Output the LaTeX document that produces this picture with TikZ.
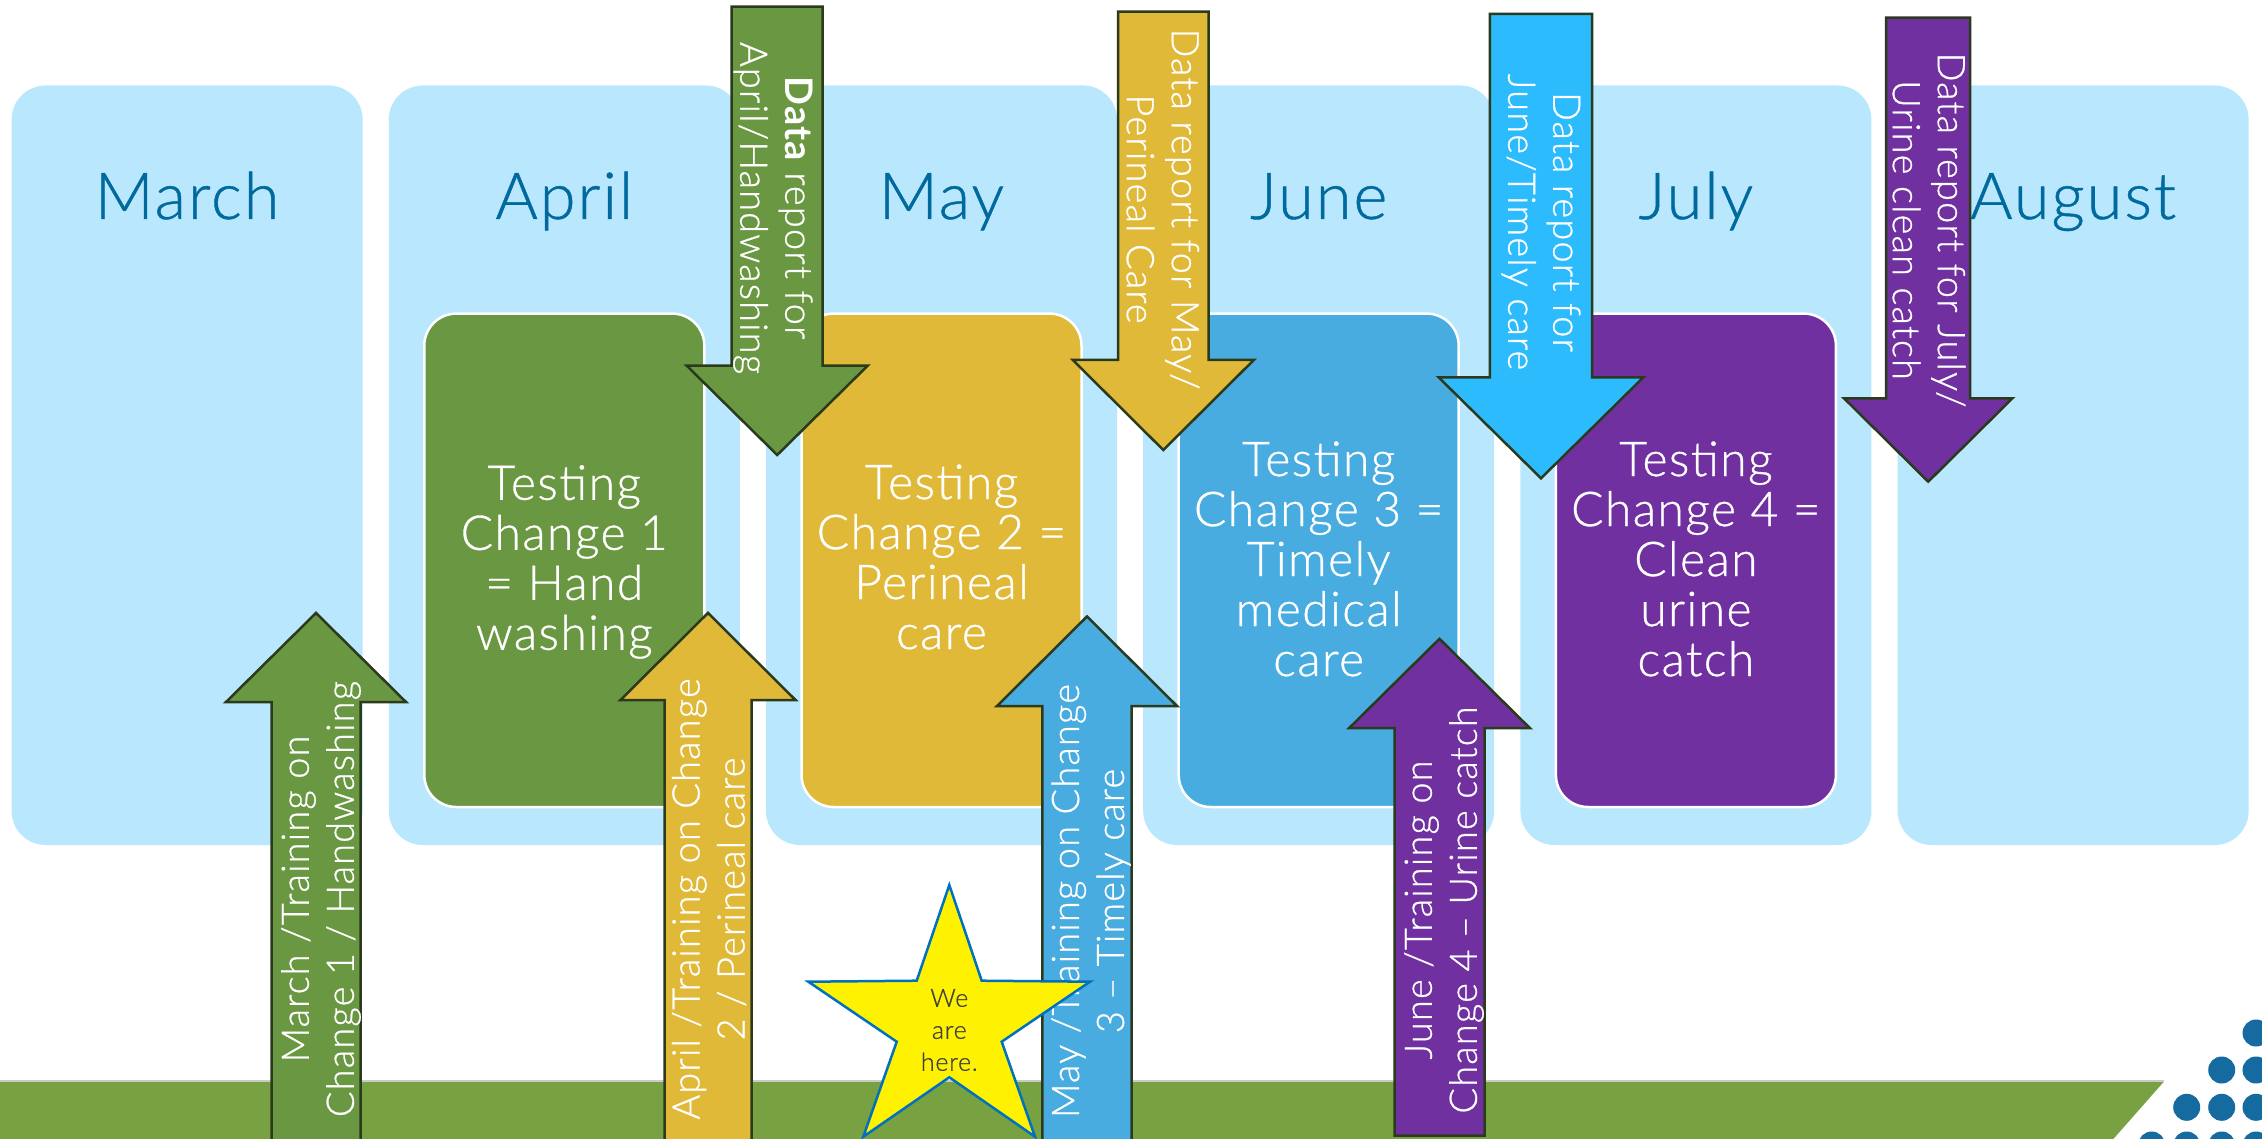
\documentclass[tikz,border=0pt]{standalone}
\usepackage{fontspec}
\IfFontExistsTF{Lato Light}
  {\setmainfont{Lato Light}[LetterSpace=3, FakeBold=0.7]}
  {\setmainfont{Lato}[LetterSpace=3]}
\newfontfamily\boldlato{Lato}[LetterSpace=3]

\definecolor{skyfill}{HTML}{B9E7FD}
\definecolor{titleblue}{HTML}{006A9E}
\definecolor{grn}{HTML}{6A9741}
\definecolor{gold}{HTML}{E1B938}
\definecolor{junblue}{HTML}{48ACE0}
\definecolor{cyanarrow}{HTML}{2CBBFD}
\definecolor{purp}{HTML}{7030A0}
\definecolor{bandgreen}{HTML}{78A142}
\definecolor{bandedge}{HTML}{CACACA}
\definecolor{arrowedge}{HTML}{2B3A1C}
\definecolor{dotblue}{HTML}{156A9F}
\definecolor{starblue}{HTML}{0070C0}
\definecolor{startextcol}{HTML}{404040}

% block arrow: fill, centre x, tip y, head-base y, head half width, shaft half width, tail y
\newcommand{\blockarrow}[7]{%
  \draw[blockline, fill=#1] ({#2-#6},#7) -- ({#2-#6},#4) -- ({#2-#5},#4) -- (#2,#3)
    -- ({#2+#5},#4) -- ({#2+#6},#4) -- ({#2+#6},#7) -- cycle;}

\begin{document}
\begin{tikzpicture}[x=1pt, y=-1pt,
  monthcol/.style={fill=skyfill, rounded corners=34pt},
  monthlabel/.style={text=titleblue, anchor=base, inner sep=0pt,
    font=\fontsize{65}{70}\selectfont},
  changebox/.style={draw=white, line width=2.5pt, rounded corners=32pt},
  changetext/.style={text=white, align=center, inner sep=0pt,
    font=\fontsize{48}{50}\selectfont},
  blockline/.style={draw=arrowedge, line width=2.5pt, line join=miter},
  uptext/.style={text=white, align=center, inner sep=0pt, rotate=90,
    font=\fontsize{38}{45}\selectfont},
  downtext/.style={text=white, align=center, inner sep=0pt, rotate=-90,
    font=\fontsize{38}{45}\selectfont},
  starshape/.style={fill=yellow, draw=starblue, line width=2.5pt, line join=miter},
  startext/.style={text=startextcol, align=center, inner sep=0pt,
    font=\fontsize{25}{32}\selectfont}]

\useasboundingbox (0,0) rectangle (2262,1139);
\clip (0,0) rectangle (2262,1139);
\fill[white] (0,0) rectangle (2262,1139);

% month columns with their titles
\foreach \i/\m in {0/March,1/April,2/May,3/June,4/July,5/August} {
  \pgfmathsetmacro\L{11.6+377.2*\i}
  \fill[monthcol] (\L,85.5) rectangle ({\L+351},845);
  \node[monthlabel] (m\i) at ({\L+175.5},219) {\m};
}

% the four changes being tested
\foreach \i/\c in {1/grn,2/gold,3/junblue,4/purp} {
  \pgfmathsetmacro\L{424.3+377.2*(\i-1)}
  \draw[changebox, fill=\c] (\L,313.6) rectangle ({\L+280},807);
}
\node[changetext] (c1) at (564.3,562) {Testing\\Change 1\\= Hand\\washing};
\node[changetext] (c2) at (941.5,557) {Testing\\Change 2 =\\Perineal\\care};
\node[changetext] (c3) at (1318.7,559) {Testing\\Change 3 =\\Timely\\medical\\care};
\node[changetext] (c4) at (1695.9,559) {Testing\\Change 4 =\\Clean\\urine\\catch};

% footer band and dot pattern
\fill[bandgreen] (0,1081.5) -- (2164,1081.5) -- (2113.3,1139) -- (0,1139) -- cycle;
\draw[bandedge, line width=1.5pt] (0,1081) -- (2164,1081);
\foreach \p in {(2256,1033),(2221.7,1070),(2256,1070),(2186.7,1107.3),(2221.7,1107.3),
  (2256,1107.3),(2151.7,1145),(2186.7,1145),(2221.7,1145),(2256,1145)}
  \fill[dotblue] \p circle (13.5pt);

% training arrows (pointing up)
\blockarrow{grn}{316}{613}{702}{90}{44.5}{1200}
\node[uptext] (t1) at (321,899) {March /Training on\\Change 1 / Handwashing};
\blockarrow{gold}{708}{613}{700}{87.5}{43.5}{1200}
\node[uptext] (t2) at (709,899) {April /Training on Change\\2 / Perineal care};
\blockarrow{junblue}{1087}{616.5}{706}{90}{44.7}{1200}
\node[uptext] (t3) at (1091,901) {May /Training on Change\\3 – Timely care};
\blockarrow{purp}{1439.5}{638.8}{728.2}{90.5}{45}{1135.6}
\node[uptext] (t4) at (1444,910) {June /Training on\\Change 4 – Urine catch};

% data report arrows (pointing down)
\blockarrow{grn}{777.2}{455}{365.7}{90.5}{45.5}{6.7}
\node[downtext] (d1) at (773,208) {{\boldlato\bfseries Data} report for\\April/Handwashing};
\blockarrow{gold}{1163.3}{450}{360}{90.5}{45.2}{11.7}
\node[downtext] (d2) at (1163,209) {Data report for May/\\Perineal Care};
\blockarrow{cyanarrow}{1541}{478.3}{377.3}{102.4}{51.1}{14}
\node[downtext] (d3) at (1541,222) {Data report for\\June/Timely care};
\blockarrow{purp}{1928.2}{481.7}{398.3}{84.2}{42}{17.7}
\node[downtext] (d4) at (1929,230) {Data report for July/\\Urine clean catch};

% current position marker
\draw[starshape] (949.3,885) -- (981.7,980.7) -- (1090,981.7) -- (1001.7,1041.7)
  -- (1035,1136.7) -- (949.3,1077.3) -- (863.3,1136.7) -- (896.7,1041.7)
  -- (808.3,981.7) -- (916.7,980.7) -- cycle;
\node[startext] (here) at (949.3,1030) {We\\are\\here.};

\end{tikzpicture}
\end{document}
